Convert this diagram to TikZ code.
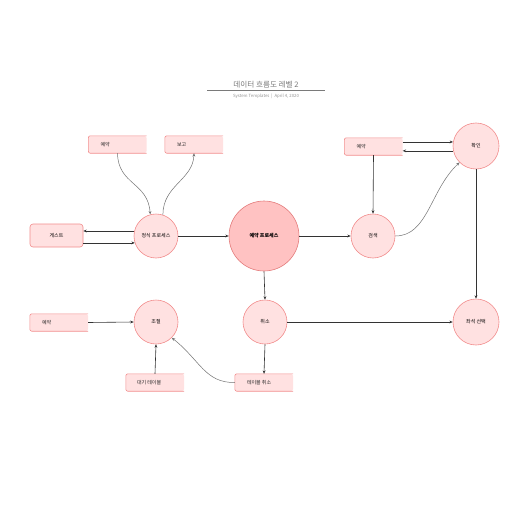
\documentclass[tikz,border=0pt]{standalone}
\usepackage{fontspec}
\setmainfont{Noto Sans CJK KR}
\usetikzlibrary{arrows.meta}
\definecolor{boxfill}{HTML}{FFE1E1}
\definecolor{boxline}{HTML}{F28C8C}
\definecolor{mainfill}{HTML}{FFC2C2}
\definecolor{mainline}{HTML}{E47C7C}
\definecolor{linec}{HTML}{333333}
\definecolor{titlec}{HTML}{7A7A7A}
\tikzset{
  ebox/.style={fill=boxfill, rounded corners=2pt, minimum width=58pt, minimum height=17pt, inner sep=0pt},
  gbox/.style={fill=boxfill, draw=boxline, line width=0.6pt, rounded corners=3pt, minimum width=53pt, minimum height=23pt, inner sep=0pt, font=\fontsize{5}{6}\selectfont},
  edge/.style={draw=boxline, line width=0.6pt, rounded corners=2pt},
  lbl/.style={font=\fontsize{5}{6}\selectfont, inner sep=0pt, text=black!85},
  proc/.style={circle, fill=boxfill, draw=boxline, line width=0.6pt, minimum size=44pt, inner sep=0pt, font=\fontsize{5}{6}\selectfont},
  mainproc/.style={circle, fill=mainfill, draw=mainline, line width=0.6pt, minimum size=70pt, inner sep=0pt, font=\fontsize{5}{6}\selectfont\bfseries},
  arr/.style={draw=linec, line width=0.6pt, -{Stealth[length=3.4pt,width=2.8pt]}},
  garr/.style={draw=black!55, line width=0.5pt, -{Stealth[length=3.4pt,width=2.8pt]}}
}
\begin{document}
\begin{tikzpicture}[x=1pt,y=-1pt]
\path[use as bounding box, fill=white] (0,0) rectangle (516,516);
% title
\node[font=\fontsize{7.6}{9}\selectfont, text=titlec, inner sep=0pt] (title) at (266,84.5) {데이터 흐름도 레벨 2};
\coordinate (tl1) at (207,90);
\coordinate (tl2) at (325,90);
\draw[titlec, line width=0.5pt] (tl1) -- (tl2);
\node[font=\fontsize{4.3}{5}\selectfont, text=titlec!80, inner sep=0pt] (subtitle) at (266,96.5) {System Templates \ | \ April 4, 2020};

% external entity boxes (open at right)
\node[ebox] (r1) at (117.5,144.5) {};
\draw[edge] (r1.north east) -| (r1.south west) -- (r1.south east);
\node[lbl, anchor=west] (r1t) at ([xshift=12pt]r1.west) {예약};

\node[ebox] (b2) at (194,144.5) {};
\draw[edge] (b2.north east) -| (b2.south west) -- (b2.south east);
\node[lbl, anchor=west] (b2t) at ([xshift=12pt]b2.west) {보고};

\node[ebox] (r3) at (373.5,146.5) {};
\draw[edge] (r3.north east) -| (r3.south west) -- (r3.south east);
\node[lbl, anchor=west] (r3t) at ([xshift=12pt]r3.west) {예약};

\node[ebox] (r4) at (59,322.5) {};
\draw[edge] (r4.north east) -| (r4.south west) -- (r4.south east);
\node[lbl, anchor=west] (r4t) at ([xshift=12pt]r4.west) {예약};

\node[ebox] (wt) at (155,382.5) {};
\draw[edge] (wt.north east) -| (wt.south west) -- (wt.south east);
\node[lbl, anchor=west] (wtt) at ([xshift=11pt]wt.west) {대기 테이블};

\node[ebox] (tc) at (264,382.5) {};
\draw[edge] (tc.north east) -| (tc.south west) -- (tc.south east);
\node[lbl, anchor=west] (tct) at ([xshift=12pt]tc.west) {테이블 취소};

\node[gbox] (g) at (56.5,235.5) {게스트};

% processes
\node[proc] (p1) at (156,236) {정식 프로세스};
\node[mainproc] (m) at (264,236) {예약 프로세스};
\node[proc] (s) at (373,236) {검색};
\node[proc, minimum size=46pt] (c) at (476,146) {확인};
\node[proc] (adj) at (156,322) {조절};
\node[proc] (x) at (265,322) {취소};
\node[proc, minimum size=46pt] (seat) at (476,322) {좌석 선택};

% connectors
\draw[arr] (p1.167) -- (g.east |- p1.167);
\draw[arr] (g.east |- p1.198) -- (p1.198);
\draw[garr] (r1.south) .. controls (118,185) and (148,182) .. (p1.105);
\draw[garr] (p1.72) .. controls (163,185) and (193,180) .. (b2.south);
\draw[arr] (p1) -- (m);
\draw[arr] (m) -- (s);
\draw[arr] (m.south) -- (x.north);
\draw[arr] (r3.east |- c.170) -- (c.170);
\draw[arr] (c.192) -- (r3.east |- c.192);
\draw[arr] (r3.south) -- (s.north);
\draw[garr] (s.east) .. controls (428,236) and (430,190) .. (c.225);
\draw[arr] (c.south) -- (seat.north);
\draw[arr] (x.east) -- (seat.west);
\draw[arr] (r4.east) -- (adj.west);
\draw[arr] (wt.north) -- (adj.south);
\draw[garr] (tc.west) .. controls (205,383) and (200,360) .. (adj.315);
\draw[arr] (x.south) -- (tc.north);
\end{tikzpicture}
\end{document}
